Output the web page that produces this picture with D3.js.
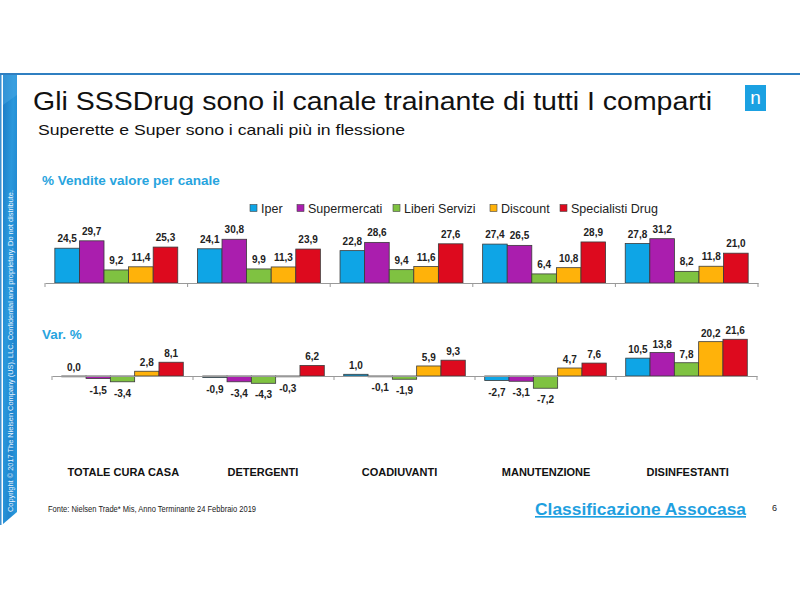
<!DOCTYPE html>
<html>
<head>
<meta charset="utf-8">
<script src="https://cdn.jsdelivr.net/npm/d3@7"></script>
<style>
  html, body { margin: 0; padding: 0; background: #fff; }
  svg { display: block; }
  text { font-family: "Liberation Sans", Arial, sans-serif; }
</style>
</head>
<body>
<svg id="chart" width="800" height="600"></svg>
<script>
// ---------- DATA ----------
const categories = ["TOTALE CURA CASA", "DETERGENTI", "COADIUVANTI", "MANUTENZIONE", "DISINFESTANTI"];
const seriesNames = ["Iper", "Supermercati", "Liberi Servizi", "Discount", "Specialisti Drug"];
const seriesColors = ["#0ea5e6", "#aa1eae", "#7fc241", "#ffb20a", "#dd0a1e"];

// % Vendite valore per canale
const shareIper = [24.5, 24.1, 22.8, 27.4, 27.8];
const shareSuper = [29.7, 30.8, 28.6, 26.5, 31.2];
const shareLiberi = [9.2, 9.9, 9.4, 6.4, 8.2];
const shareDiscount = [11.4, 11.3, 11.6, 10.8, 11.8];
const shareSpecialisti = [25.3, 23.9, 27.6, 28.9, 21.0];

// Var. %
const varIper = [0.0, -0.9, 1.0, -2.7, 10.5];
const varSuper = [-1.5, -3.4, -0.1, -3.1, 13.8];
const varLiberi = [-3.4, -4.3, -1.9, -7.2, 7.8];
const varDiscount = [2.8, -0.3, 5.9, 4.7, 20.2];
const varSpecialisti = [8.1, 6.2, 9.3, 7.6, 21.6];

const shareSeries = [shareIper, shareSuper, shareLiberi, shareDiscount, shareSpecialisti];
const varSeries = [varIper, varSuper, varLiberi, varDiscount, varSpecialisti];

// ---------- DRAW ----------
const svg = d3.select("#chart");
const fmt = v => d3.format(".1f")(v).replace(".", ",").replace("−", "-");

// top frame line
svg.append("rect").attr("x", 0).attr("y", 73).attr("width", 800).attr("height", 2).attr("fill", "#2f7fc1");

// left sidebar
const defs = svg.append("defs");
const grad = defs.append("linearGradient").attr("id", "side").attr("x1", 0).attr("y1", 0).attr("x2", 1).attr("y2", 1);
grad.append("stop").attr("offset", "0%").attr("stop-color", "#1c7cc6");
grad.append("stop").attr("offset", "40%").attr("stop-color", "#2a98dc");
grad.append("stop").attr("offset", "70%").attr("stop-color", "#1f86cf");
grad.append("stop").attr("offset", "100%").attr("stop-color", "#2c9ddf");
svg.append("rect").attr("x", 0).attr("y", 75).attr("width", 1.5).attr("height", 450).attr("fill", "#3d8fd0");
svg.append("path").attr("d", "M3,75 L17,75 L17,512 L3,524 Z").attr("fill", "url(#side)");
svg.append("path").attr("d", "M3,75 L17,75 L17,95 L3,105 Z").attr("fill", "#4aa8e4").attr("opacity", 0.5);
svg.append("text")
  .attr("transform", "translate(12.8,512) rotate(-90)")
  .attr("font-size", 6.8).attr("fill", "#e8f4ff")
  .attr("textLength", 322).attr("lengthAdjust", "spacingAndGlyphs")
  .text("Copyright © 2017 The Nielsen Company (US), LLC. Confidential and proprietary. Do not distribute.");

// title
svg.append("text").attr("x", 33).attr("y", 110)
  .attr("font-size", 25).attr("fill", "#111")
  .attr("textLength", 679).attr("lengthAdjust", "spacingAndGlyphs")
  .text("Gli SSSDrug sono il canale trainante di tutti I comparti");
svg.append("text").attr("x", 38).attr("y", 135)
  .attr("font-family", "'Open Sans', 'DejaVu Sans', sans-serif")
  .attr("font-size", 15).attr("fill", "#111")
  .attr("textLength", 367).attr("lengthAdjust", "spacingAndGlyphs")
  .text("Superette e Super sono i canali più in flessione");

// logo
svg.append("rect").attr("x", 745).attr("y", 85).attr("width", 21).attr("height", 26).attr("fill", "#1ba1e2");
svg.append("text").attr("x", 755.5).attr("y", 104).attr("text-anchor", "middle")
  .attr("font-family", "'Liberation Serif', serif").attr("font-size", 19).attr("fill", "#fff").text("n");

// section headings
svg.append("text").attr("x", 42).attr("y", 185).attr("font-size", 13.5).attr("font-weight", "bold")
  .attr("fill", "#28a4de").text("% Vendite valore per canale");
svg.append("text").attr("x", 42).attr("y", 339).attr("font-size", 13.5).attr("font-weight", "bold")
  .attr("fill", "#28a4de").text("Var. %");

// legend
const legendX = [250, 297, 393, 490, 560];
const legend = svg.append("g");
seriesNames.forEach((name, i) => {
  legend.append("rect").attr("x", legendX[i]).attr("y", 204.5).attr("width", 7).attr("height", 7)
    .attr("fill", seriesColors[i]).attr("stroke", "#444").attr("stroke-width", 0.6);
  legend.append("text").attr("x", legendX[i] + 11).attr("y", 212.5).attr("font-size", 12.5)
    .attr("fill", "#222").text(name);
});

// ---- top chart ----
const xTop = d3.scaleBand().domain(categories).range([45, 758]).paddingInner(0).paddingOuter(0);
const xTopInner = d3.scaleBand().domain(seriesNames).range([0, xTop.bandwidth()]).paddingOuter(0.4);
const yTop = d3.scaleLinear().domain([0, 35]).range([283, 283 - 35 * 1.42]);

const topG = svg.append("g");
seriesNames.forEach((name, si) => {
  categories.forEach((cat, ci) => {
    const v = shareSeries[si][ci];
    const x = xTop(cat) + xTopInner(name);
    topG.append("rect").attr("x", x).attr("y", yTop(v)).attr("width", xTopInner.bandwidth())
      .attr("height", yTop(0) - yTop(v)).attr("fill", seriesColors[si])
      .attr("stroke", "#3a3a3a").attr("stroke-width", 0.8);
    topG.append("text").attr("x", x + xTopInner.bandwidth() / 2).attr("y", yTop(v) - 6)
      .attr("text-anchor", "middle").attr("font-size", 10).attr("font-weight", "bold")
      .attr("fill", "#222").text(fmt(v));
  });
});
const axTop = svg.append("g").attr("transform", "translate(0,283)")
  .call(d3.axisBottom(xTop).tickValues([]).tickSizeOuter(0));
axTop.select(".domain").attr("stroke", "#999");
const topBounds = categories.map(c => xTop(c)).concat([xTop.range()[1]]);
topBounds.forEach(b => {
  svg.append("line").attr("x1", b).attr("x2", b).attr("y1", 283).attr("y2", 287).attr("stroke", "#999");
});

// ---- bottom chart ----
const xBot = d3.scaleBand().domain(categories).range([52, 757]);
const xBotInner = d3.scaleBand().domain(seriesNames).range([0, xBot.bandwidth()]).paddingOuter(0.4);
const yBot = d3.scaleLinear().domain([-10, 25]).range([376 + 10 * 1.7, 376 - 25 * 1.7]);

const botG = svg.append("g");
seriesNames.forEach((name, si) => {
  categories.forEach((cat, ci) => {
    const v = varSeries[si][ci];
    const x = xBot(cat) + xBotInner(name);
    const y0 = yBot(Math.max(0, v)), y1 = yBot(Math.min(0, v));
    botG.append("rect").attr("x", x).attr("y", y0).attr("width", xBotInner.bandwidth())
      .attr("height", Math.max(y1 - y0, 0.8)).attr("fill", seriesColors[si])
      .attr("stroke", "#3a3a3a").attr("stroke-width", 0.8);
    botG.append("text").attr("x", x + xBotInner.bandwidth() / 2)
      .attr("y", v >= 0 ? y0 - 5 : y1 + 15)
      .attr("text-anchor", "middle").attr("font-size", 10).attr("font-weight", "bold")
      .attr("fill", "#222").text(fmt(v));
  });
});
const axBot = svg.append("g").attr("transform", "translate(0,376)")
  .call(d3.axisBottom(xBot).tickValues([]).tickSizeOuter(0));
axBot.select(".domain").attr("stroke", "#999");
const botBounds = categories.map(c => xBot(c)).concat([xBot.range()[1]]);
botBounds.forEach(b => {
  svg.append("line").attr("x1", b).attr("x2", b).attr("y1", 376).attr("y2", 380).attr("stroke", "#999");
});

// category labels
const catOffsets = [7, 4, -2, 2, 1];
categories.forEach((c, i) => {
  svg.append("text").attr("x", xTop(c) + xTop.bandwidth() / 2 + catOffsets[i]).attr("y", 476)
    .attr("text-anchor", "middle").attr("font-size", 11).attr("font-weight", "bold")
    .attr("fill", "#111").text(c);
});

// footer
svg.append("text").attr("x", 48).attr("y", 512).attr("font-size", 9).attr("fill", "#222")
  .attr("textLength", 208).attr("lengthAdjust", "spacingAndGlyphs")
  .text("Fonte: Nielsen Trade* Mis, Anno Terminante 24 Febbraio 2019");
svg.append("text").attr("x", 535).attr("y", 515).attr("font-size", 16.5).attr("font-weight", "bold")
  .attr("fill", "#1ea0e0").attr("text-decoration", "underline")
  .attr("textLength", 211).attr("lengthAdjust", "spacingAndGlyphs")
  .text("Classificazione Assocasa");
svg.append("text").attr("x", 772).attr("y", 511).attr("font-size", 9).attr("fill", "#222").text("6");
</script>
</body>
</html>
